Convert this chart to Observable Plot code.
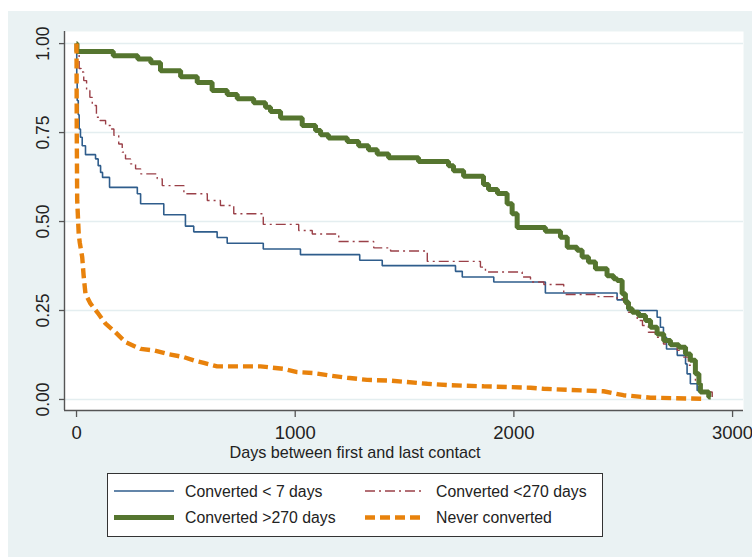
<!DOCTYPE html>
<html><head><meta charset="utf-8">
<script src="https://cdn.jsdelivr.net/npm/d3@7"></script>
<script src="https://cdn.jsdelivr.net/npm/@observablehq/plot@0.6"></script>
<style>
html,body{margin:0;padding:0;background:#fff;width:752px;height:557px;overflow:hidden;font-family:"Liberation Sans",Arial,sans-serif;}
#bg{position:absolute;left:8px;top:11px;width:744px;height:546px;background:#eaf2f3;}
#chart{position:absolute;left:0;top:0;}
#legend{position:absolute;left:107px;top:473px;}
</style></head><body>
<div id="bg"></div><div id="chart"></div><div id="legend"></div>
<script>
// ---- data (days, survival) ----
const convertedUnder7 = [[0,1],[1,0.90],[3,0.84],[8,0.80],[12,0.76],[18,0.737],[26,0.713],[41,0.688],[87,0.676],[99,0.657],[110,0.638],[119,0.624],[151,0.596],[278,0.578],[293,0.55],[399,0.519],[498,0.487],[536,0.471],[643,0.455],[689,0.439],[854,0.423],[1024,0.407],[1295,0.391],[1398,0.376],[1733,0.36],[1764,0.344],[1908,0.33],[2144,0.299],[2472,0.28],[2520,0.25],[2655,0.231],[2670,0.203],[2684,0.175],[2698,0.142],[2747,0.124],[2785,0.10],[2792,0.072],[2807,0.044],[2838,0.025],[2860,0.02],[2890,0.005]];
const convertedUnder270 = [[0,1],[5,0.97],[12,0.93],[21,0.92],[33,0.896],[46,0.868],[61,0.849],[72,0.826],[91,0.793],[107,0.784],[133,0.77],[155,0.76],[171,0.742],[193,0.718],[209,0.695],[224,0.676],[247,0.662],[270,0.648],[293,0.634],[369,0.62],[392,0.601],[491,0.578],[598,0.559],[658,0.545],[719,0.522],[854,0.492],[1016,0.475],[1078,0.465],[1199,0.444],[1359,0.426],[1436,0.417],[1604,0.388],[1847,0.372],[1870,0.358],[2038,0.344],[2076,0.33],[2137,0.323],[2228,0.295],[2381,0.289],[2472,0.283],[2500,0.278],[2510,0.264],[2524,0.245],[2564,0.222],[2588,0.208],[2615,0.189],[2647,0.175],[2684,0.156],[2747,0.138],[2776,0.119],[2798,0.096],[2830,0.053],[2853,0.021],[2907,0.007]];
const convertedOver270 = [[0,1],[2,0.978],[168,0.966],[280,0.957],[340,0.946],[384,0.924],[476,0.907],[552,0.891],[620,0.868],[689,0.857],[735,0.845],[810,0.834],[864,0.821],[887,0.809],[933,0.791],[1032,0.770],[1093,0.756],[1116,0.744],[1152,0.735],[1238,0.725],[1290,0.713],[1335,0.702],[1375,0.690],[1427,0.679],[1564,0.669],[1701,0.657],[1724,0.643],[1770,0.627],[1861,0.604],[1884,0.590],[1925,0.579],[1969,0.55],[1992,0.522],[2015,0.483],[2144,0.473],[2213,0.456],[2244,0.428],[2289,0.419],[2312,0.400],[2341,0.386],[2373,0.367],[2426,0.348],[2456,0.339],[2472,0.334],[2495,0.297],[2510,0.273],[2524,0.255],[2541,0.245],[2570,0.236],[2602,0.222],[2625,0.203],[2655,0.184],[2685,0.166],[2716,0.154],[2754,0.147],[2785,0.128],[2807,0.110],[2830,0.072],[2846,0.044],[2853,0.021],[2891,0.007],[2900,0.007]];
const neverConverted = [[0,1],[1,0.76],[3,0.56],[10,0.465],[15,0.44],[26,0.40],[33,0.344],[41,0.297],[64,0.269],[95,0.245],[133,0.213],[178,0.189],[224,0.161],[293,0.142],[353,0.138],[415,0.128],[491,0.119],[536,0.11],[582,0.103],[643,0.093],[841,0.093],[948,0.086],[1009,0.077],[1085,0.074],[1161,0.067],[1238,0.061],[1329,0.055],[1436,0.053],[1512,0.049],[1604,0.044],[1710,0.040],[1862,0.037],[2076,0.033],[2135,0.030],[2410,0.023],[2501,0.012],[2625,0.005],[2860,0.002]];

const seriesNames = ["Converted < 7 days", "Converted <270 days", "Converted >270 days", "Never converted"];
const xTicks = [0, 1000, 2000, 3000];
const yTicks = [0, 0.25, 0.5, 0.75, 1];
const xLabel = "Days between first and last contact";

// ---- styles ----
const styles = [
  {stroke: "#2f5d8c", strokeWidth: 1.6, dash: null, curve: "step-after"},
  {stroke: "#9a4048", strokeWidth: 1.4, dash: "10,4,2,4", curve: "step-after"},
  {stroke: "#55752f", strokeWidth: 5, dash: null, curve: "step-after"},
  {stroke: "#e8820c", strokeWidth: 4.4, dash: "10,5", curve: "linear"}
];
const allSeries = [convertedUnder7, convertedUnder270, convertedOver270, neverConverted];
const xDomain = [-55, 3050];
const yDomain = [-0.031, 1.034];
const font = "Liberation Sans, Arial, sans-serif";

const lineMarks = allSeries.map((s, i) => Plot.line(s, {
  x: d => d[0], y: d => d[1], stroke: styles[i].stroke, strokeWidth: styles[i].strokeWidth,
  strokeDasharray: styles[i].dash, curve: styles[i].curve, strokeLinejoin: "miter", strokeLinecap: "butt"
}));

const chart = Plot.plot({
  width: 752, height: 465,
  marginLeft: 64, marginRight: 9, marginTop: 31, marginBottom: 55,
  style: {background: "transparent", fontFamily: font, color: "#222"},
  x: {domain: xDomain},
  y: {domain: yDomain},
  marks: [
    Plot.frame({fill: "white", stroke: "none"}),
    Plot.gridY(yTicks, {stroke: "#e4eef0", strokeOpacity: 1, strokeWidth: 1.5}),
    ...lineMarks,
    Plot.ruleX([xDomain[0]], {stroke: "#555", strokeWidth: 1.4}),
    Plot.ruleY([yDomain[0]], {stroke: "#555", strokeWidth: 1.4}),
    Plot.axisY(yTicks, {tickSize: 5, tickFormat: () => "", stroke: "#555", strokeWidth: 1.3, label: null}),
    Plot.text(yTicks, {y: d => d, text: d => d.toFixed(2), frameAnchor: "left", textAnchor: "middle", lineAnchor: "middle", dx: -21, rotate: -90, fontSize: 17.5, fill: "#222"}),
    Plot.axisX(xTicks, {tickSize: 7, tickPadding: 8, fontSize: 18.5, stroke: "#555", strokeWidth: 1.3, fill: "#222", label: null, tickFormat: d => String(d)}),
    Plot.text([xLabel], {frameAnchor: "bottom", dx: -49, dy: 42, lineAnchor: "middle", fontSize: 16.2, fill: "#222"})
  ]
});
document.getElementById("chart").appendChild(chart);

// ---- legend ----
const lw = 496, lh = 64;
const leg = d3.select("#legend").append("svg").attr("width", lw).attr("height", lh)
  .style("font-family", font);
leg.append("rect").attr("x", 0.5).attr("y", 0.5).attr("width", lw - 1).attr("height", lh - 1)
  .attr("fill", "white").attr("stroke", "#333").attr("stroke-width", 1);
const pos = [[7, 18], [258, 18], [7, 44.5], [258, 44.5]];
seriesNames.forEach((name, i) => {
  const [px, py] = pos[i];
  leg.append("line").attr("x1", px).attr("x2", px + 60).attr("y1", py).attr("y2", py)
    .attr("stroke", styles[i].stroke).attr("stroke-width", styles[i].strokeWidth)
    .attr("stroke-dasharray", styles[i].dash);
  leg.append("text").attr("x", px + 71).attr("y", py).attr("dy", "0.35em")
    .attr("font-size", 15.8).attr("fill", "#222").text(name);
});
</script></body></html>
